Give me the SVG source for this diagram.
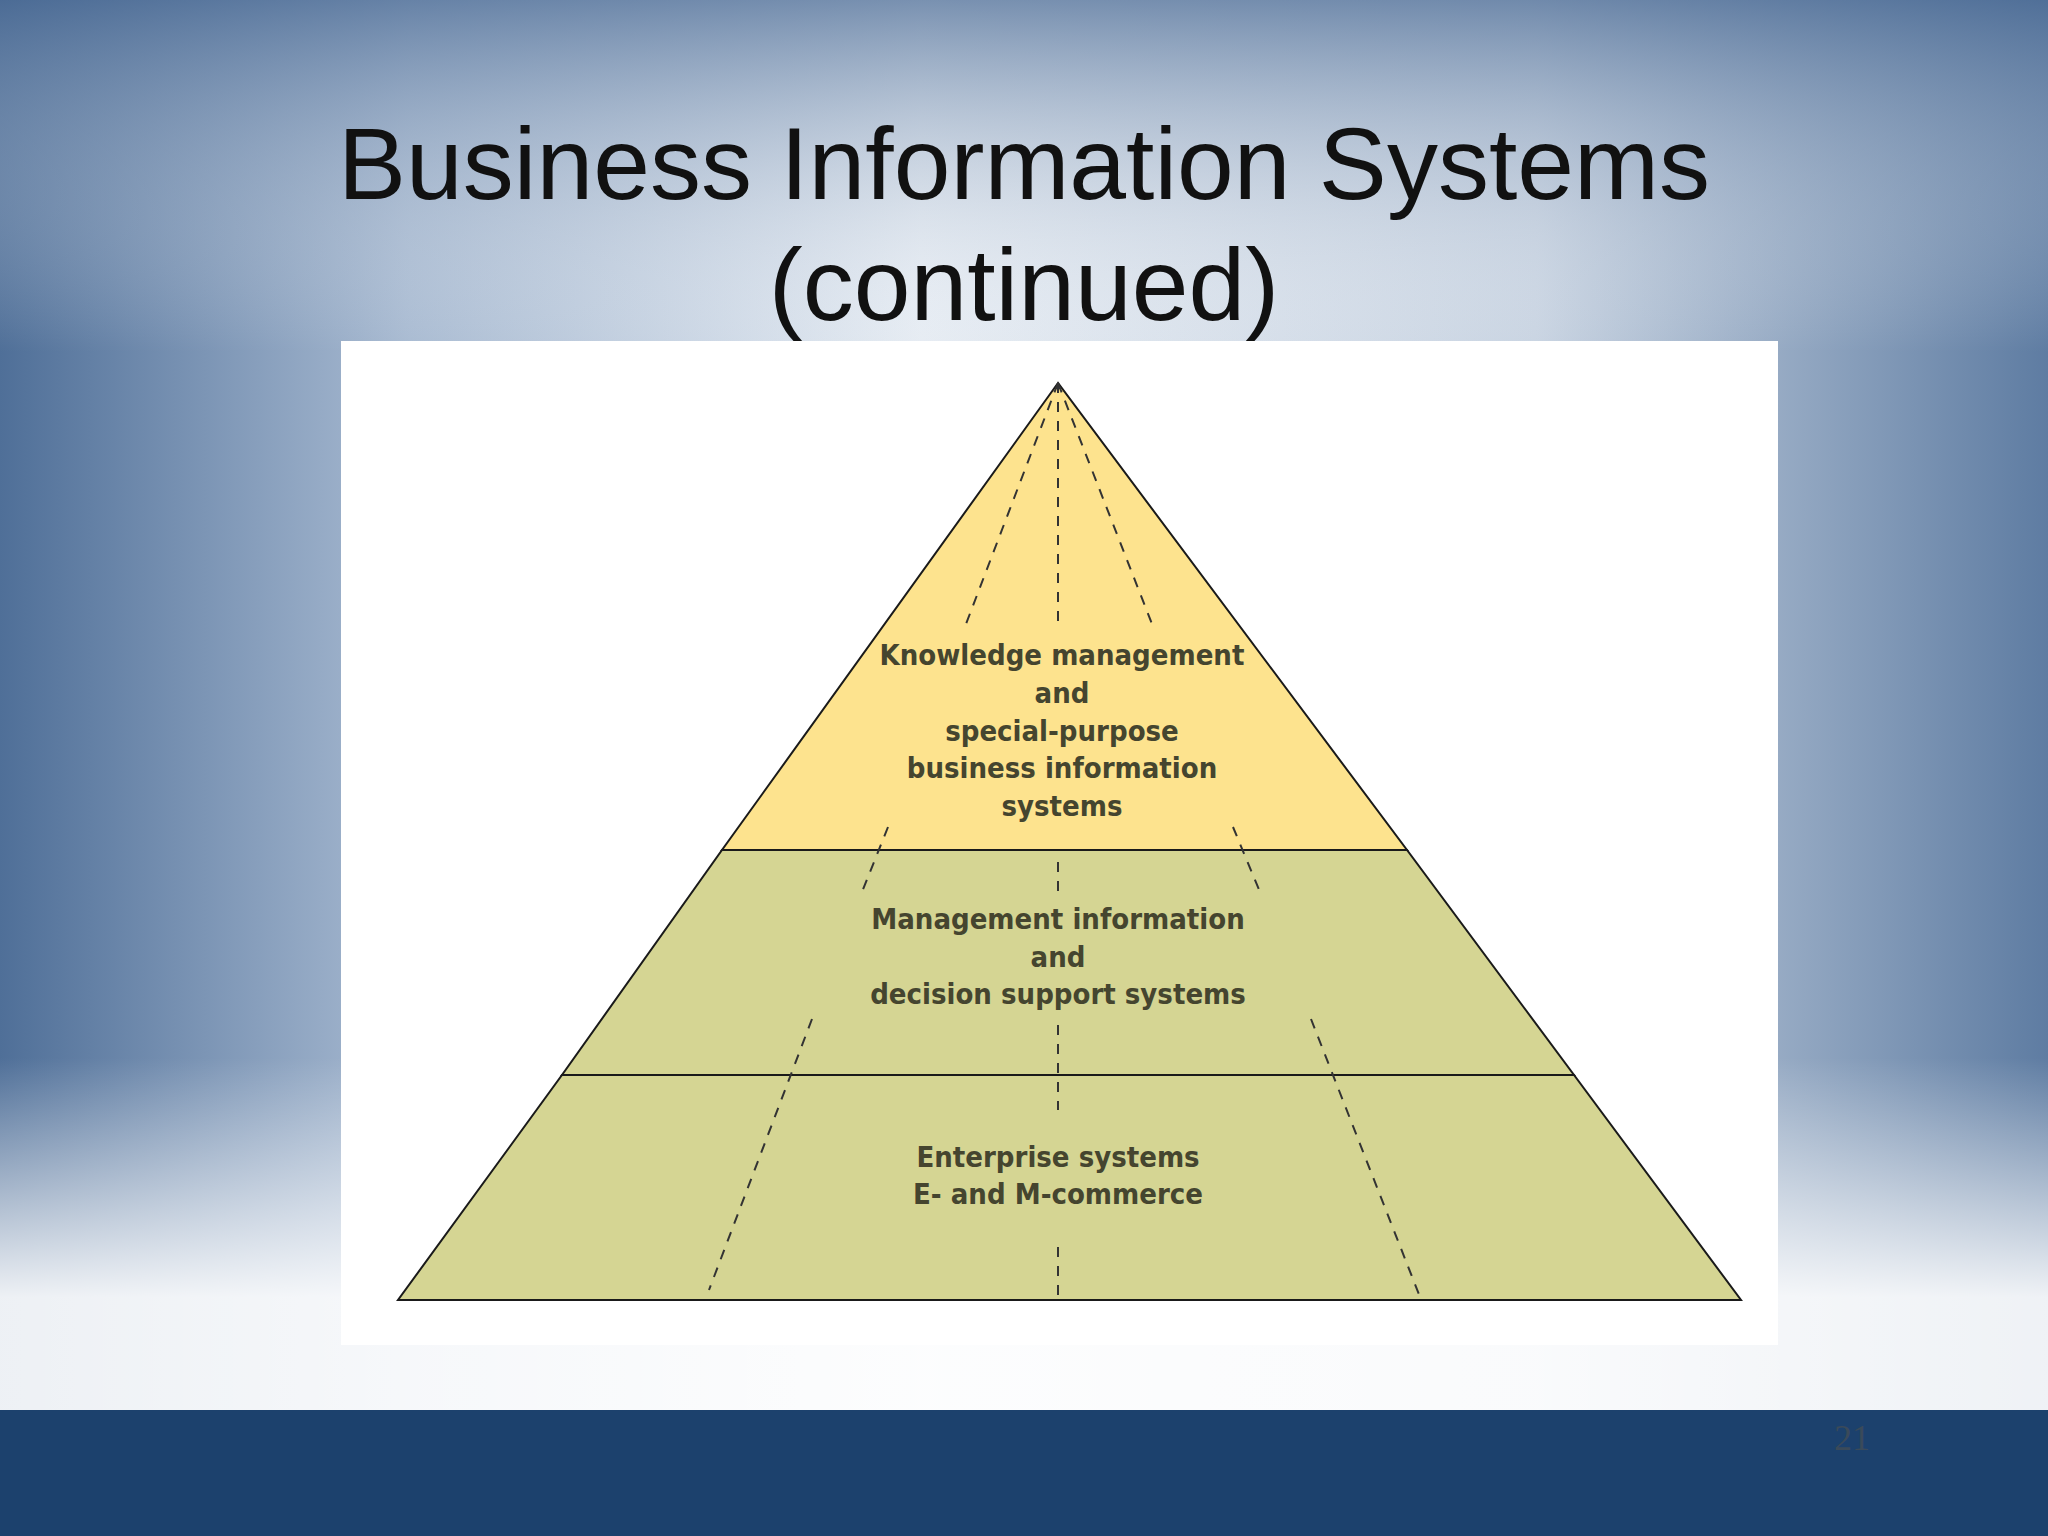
<svg xmlns="http://www.w3.org/2000/svg" width="2048" height="1536" viewBox="0 0 2048 1536">
<defs>
<linearGradient id="bgh" x1="0" y1="0" x2="1" y2="0">
<stop offset="0" stop-color="#4f6f98"/><stop offset="0.2" stop-color="#a9bbd2"/><stop offset="0.45" stop-color="#e6ecf3"/><stop offset="0.75" stop-color="#c9d4e2"/><stop offset="1" stop-color="#5e7ca2"/>
</linearGradient>
<linearGradient id="bgv" x1="0" y1="0" x2="0" y2="1">
<stop offset="0" stop-color="#4a6a94" stop-opacity="0.7"/><stop offset="0.25" stop-color="#ffffff" stop-opacity="0"/><stop offset="0.75" stop-color="#ffffff" stop-opacity="0"/><stop offset="0.92" stop-color="#ffffff" stop-opacity="0.9"/>
</linearGradient>
<style>
.edge{stroke:#1a1a1a;stroke-width:2}
.top{fill:#fde38e}
.low{fill:#d5d593}
.dash{fill:none;stroke:#333;stroke-width:2;stroke-dasharray:10 9}
.lbl{font-family:"DejaVu Sans Condensed","DejaVu Sans",sans-serif;font-weight:bold;font-size:29px;fill:#45452f;text-anchor:middle}
.title{font-family:"Liberation Sans",Arial,sans-serif;font-size:102px;fill:#111;text-anchor:middle}
</style>
</defs>
<rect width="2048" height="1536" fill="url(#bgh)"/>
<rect width="2048" height="1410" fill="url(#bgv)"/>
<rect y="1410" width="2048" height="126" fill="#1c416d"/>
<text x="1852" y="1450" font-family="Liberation Serif,serif" font-size="36" fill="#3a4a5a" text-anchor="middle">21</text>
<text class="title" x="1024" y="199">Business Information Systems</text>
<text class="title" x="1024" y="320">(continued)</text>
<rect x="341" y="341" width="1437" height="1004" fill="#fff"/>
<g id="tier-top"><polygon points="1058,383 722,850 1407,850" class="top edge"/>
<text class="lbl"><tspan x="1062" y="665">Knowledge management</tspan><tspan x="1062" y="703">and</tspan><tspan x="1062" y="741">special-purpose</tspan><tspan x="1062" y="778">business information</tspan><tspan x="1062" y="816">systems</tspan></text></g>
<g id="tier-mid"><polygon points="722,850 1407,850 1574,1075 562,1075" class="low edge"/>
<text class="lbl"><tspan x="1058" y="929">Management information</tspan><tspan x="1058" y="967">and</tspan><tspan x="1058" y="1004">decision support systems</tspan></text></g>
<g id="tier-bottom"><polygon points="562,1075 1574,1075 1741,1300 398,1300" class="low edge"/>
<text class="lbl"><tspan x="1058" y="1167">Enterprise systems</tspan><tspan x="1058" y="1204">E- and M-commerce</tspan></text></g>
<g id="connectors">
<path class="dash" d="M1058,383L966,624M1058,383L1058,624M1058,383L1152,624M888,827L862,892M1058,862L1058,900M1233,827L1260,892M812,1019L709,1290M1058,1025L1058,1110M1311,1019L1420,1297M1058,1247L1058,1300"/>
</g>
</svg>
